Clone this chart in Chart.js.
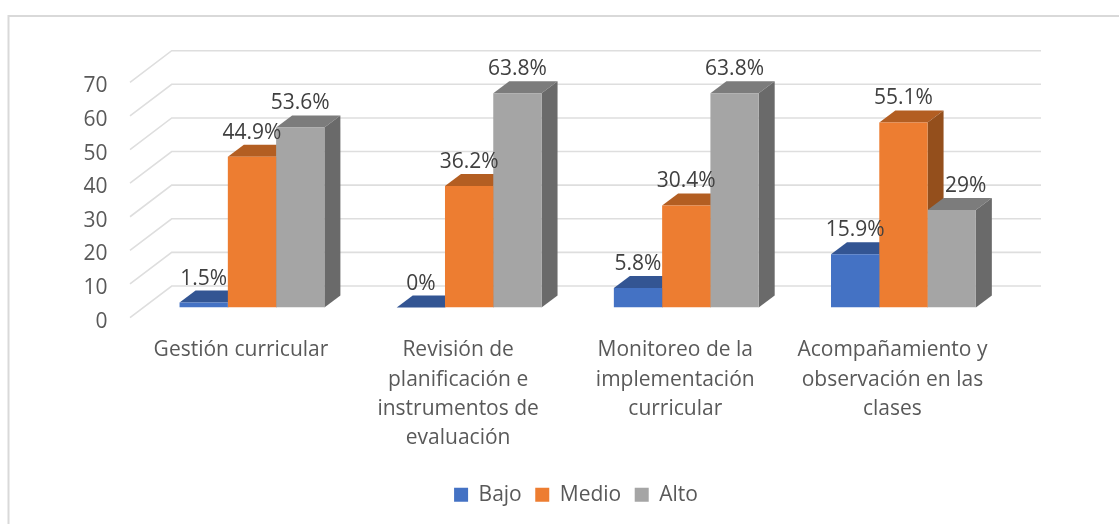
<!DOCTYPE html>
<html>
<head>
<meta charset="utf-8">
<title>Gestión curricular</title>
<script src="https://cdn.jsdelivr.net/npm/chart.js@4"></script>
<style>
    html, body { margin: 0; padding: 0; background: #fff; }
    #wrap { width: 1119px; height: 524px; }
</style>
</head>
<body>
<div id="wrap"><canvas id="barras" width="1119" height="524"></canvas></div>
<script>
const categorias = [
    'Gestión curricular',
    ['Revisión de', 'planificación e', 'instrumentos de', 'evaluación'],
    ['Monitoreo de la', 'implementación', 'curricular'],
    ['Acompañamiento y', 'observación en las', 'clases']
];
const bajo = [1.5, 0, 5.8, 15.9];
const medio = [44.9, 36.2, 30.4, 55.1];
const alto = [53.6, 63.8, 63.8, 29];

const fuente = '"Open Sans", sans-serif';
// offset of the 3D depth, and where the excel-like walls sit against the bar baseline
const fondoX = 16, fondoY = -12;
const paredIzq = 130, paredFondo = 171.7, paredDer = 1041;
const pisoFrente = 10, pisoFondo = -21.6;

function cara(ctx, puntos, color) {
    ctx.fillStyle = color;
    ctx.beginPath();
    puntos.forEach(function (p, i) {
        if (i === 0) ctx.moveTo(p[0], p[1]);
        else ctx.lineTo(p[0], p[1]);
    });
    ctx.closePath();
    ctx.fill();
}

const decorado = {
    id: 'decorado',
    beforeDraw(chart) {
        // only the top and left edges of the frame are visible in the picture
        const ctx = chart.ctx;
        ctx.save();
        ctx.strokeStyle = '#d9d9d9';
        ctx.lineWidth = 2;
        ctx.beginPath();
        ctx.moveTo(8.5, 524);
        ctx.lineTo(8.5, 16);
        ctx.lineTo(1119, 16);
        ctx.stroke();
        ctx.restore();
    },
    afterLayout(chart) {
        // legend is centred a bit right of the canvas
        const d = 70;
        chart.legend.left += d;
        chart.legend.right += d;
    },
    beforeDatasetsDraw(chart) {
        const ctx = chart.ctx;
        const y = chart.scales.y;
        ctx.save();
        // back wall and left wall gridlines
        ctx.strokeStyle = '#dedede';
        ctx.lineWidth = 1.6;
        y.ticks.forEach(function (t) {
            const py = y.getPixelForValue(t.value);
            ctx.beginPath();
            ctx.moveTo(paredIzq, py + pisoFrente);
            ctx.lineTo(paredFondo, py + pisoFondo);
            ctx.lineTo(paredDer, py + pisoFondo);
            ctx.stroke();
        });
        // top and side of every bar, left to right so the nearer ones cover
        chart.data.labels.forEach(function (_, i) {
            chart.data.datasets.forEach(function (ds, d) {
                const b = chart.getDatasetMeta(d).data[i];
                const izq = b.x - b.width / 2, der = b.x + b.width / 2;
                const base = y.getPixelForValue(0);
                cara(ctx, [[izq, b.y], [der, b.y], [der + fondoX, b.y + fondoY], [izq + fondoX, b.y + fondoY]], ds.colorTapa);
                cara(ctx, [[der, b.y], [der + fondoX, b.y + fondoY], [der + fondoX, base + fondoY], [der, base]], ds.colorLado);
            });
        });
        ctx.restore();
    },
    afterDatasetsDraw(chart) {
        const ctx = chart.ctx;
        ctx.save();
        ctx.font = '21px ' + fuente;
        ctx.fillStyle = '#404040';
        ctx.textAlign = 'center';
        ctx.textBaseline = 'middle';
        chart.data.datasets.forEach(function (ds, d) {
            chart.getDatasetMeta(d).data.forEach(function (b, i) {
                // the 29% label was moved to the right in the original
                const dx = (d === 2 && i === 3) ? 14 : 0;
                ctx.fillText(ds.data[i] + '%', b.x + dx, b.y - 24);
            });
        });
        ctx.restore();
    }
};

const ctx1 = document.getElementById('barras').getContext('2d');
const myChart1 = new Chart(ctx1, {
    type: 'bar',
    plugins: [decorado],
    data: {
        labels: categorias,
        datasets: [
            { label: 'Bajo', data: bajo, backgroundColor: '#4472c4', colorTapa: '#335593', colorLado: '#2a4a80' },
            { label: 'Medio', data: medio, backgroundColor: '#ed7d31', colorTapa: '#b35e22', colorLado: '#944f1c' },
            { label: 'Alto', data: alto, backgroundColor: '#a5a5a5', colorTapa: '#7c7c7c', colorLado: '#6a6a6a' }
        ]
    },
    options: {
        responsive: false,
        animation: false,
        events: [],
        layout: { padding: { left: 0, right: 107, top: 72.3, bottom: 8.7 } },
        datasets: { bar: { categoryPercentage: 0.667, barPercentage: 1 } },
        scales: {
            x: {
                grid: { display: false },
                border: { display: false },
                afterFit(scale) { scale.height = 163.2; },
                ticks: {
                    color: '#595959',
                    font: { family: fuente, size: 21, lineHeight: 1.395 },
                    maxRotation: 0,
                    autoSkip: false,
                    labelOffset: -11,
                    padding: 20
                }
            },
            y: {
                min: 0,
                max: 70,
                grid: { display: false },
                border: { display: false },
                afterFit(scale) { scale.width = 143.4; },
                ticks: {
                    stepSize: 10,
                    color: '#595959',
                    font: { family: fuente, size: 21 },
                    labelOffset: 14,
                    padding: 28
                }
            }
        },
        plugins: {
            tooltip: { enabled: false },
            legend: {
                position: 'bottom',
                labels: {
                    boxWidth: 14,
                    boxHeight: 14,
                    padding: 13.5,
                    color: '#595959',
                    font: { family: fuente, size: 21 }
                }
            }
        }
    }
});
</script>
</body>
</html>
